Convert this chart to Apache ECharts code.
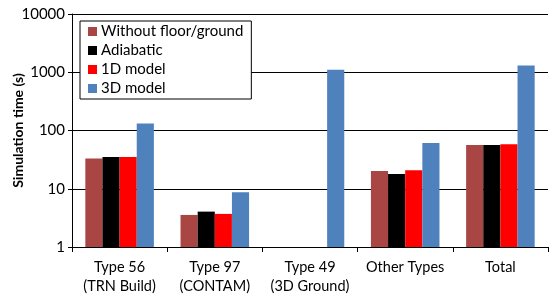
<!DOCTYPE html>
<html><head><meta charset="utf-8">
<script src="https://cdn.jsdelivr.net/npm/echarts@6/dist/echarts.min.js"></script>
<style>html,body{margin:0;padding:0;background:#fff}#c{width:549px;height:298px}</style>
</head><body><div id="c"></div>
<script>
var categories = ['Type 56\n(TRN Build)', 'Type 97\n(CONTAM)', 'Type 49\n(3D Ground)', 'Other Types', 'Total'];
var seriesNames = ['Without floor/ground', 'Adiabatic', '1D model', '3D model'];
var withoutFloor = [33, 3.55, null, 20.2, 56.5];
var adiabatic = [35, 4.05, null, 18, 56.5];
var model1D = [35, 3.7, null, 20.8, 58];
var model3D = [132, 8.7, 1100, 61, 1310];
var colors = ['#A94643', '#000000', '#FF0000', '#4F81BD'];
var font = 'Lato';
var chart = echarts.init(document.getElementById('c'));
var data = [withoutFloor, adiabatic, model1D, model3D];
chart.setOption({
  animation: false,
  textStyle: {fontFamily: font},
  grid: {left: 72, right: 1, top: 14, bottom: 51, containLabel: false, outerBoundsMode: 'none'},
  legend: {
    orient: 'vertical', left: 80, top: 21, padding: [2, 8, 2, 8],
    borderColor: '#000', borderWidth: 1, backgroundColor: '#fff',
    itemWidth: 9, itemHeight: 9, itemGap: 2, icon: 'rect',
    textStyle: {fontFamily: font, fontSize: 15, color: '#000', padding: [0, 0, 0, -1], lineHeight: 17},
    data: seriesNames
  },
  xAxis: {
    type: 'category', data: categories,
    axisLine: {lineStyle: {color: '#000'}},
    axisTick: {show: true, length: 5, lineStyle: {color: '#000'}},
    axisLabel: {interval: 0, hideOverlap: false, fontFamily: font, fontSize: 14.5, color: '#000', lineHeight: 19, margin: 11}
  },
  yAxis: {
    type: 'log', logBase: 10, min: 1, max: 10000,
    name: 'Simulation time (s)', nameLocation: 'middle', nameGap: 47, nameRotate: 90,
    nameMoveOverlap: false,
    nameTextStyle: {fontFamily: font, fontSize: 14, fontWeight: 'bold', color: '#000'},
    axisLine: {show: true, lineStyle: {color: '#000'}},
    axisTick: {show: true, length: 4, inside: false, lineStyle: {color: '#000'}},
    axisLabel: {fontFamily: font, fontSize: 15, color: '#000', margin: 7, formatter: function (v) { return String(v); }},
    splitLine: {show: true, lineStyle: {color: '#000', width: 1}}
  },
  series: seriesNames.map(function (n, i) {
    return {
      name: n, type: 'bar', data: data[i], barGap: '0%', barCategoryGap: '28%',
      itemStyle: {color: colors[i]}
    };
  })
});
</script></body></html>
